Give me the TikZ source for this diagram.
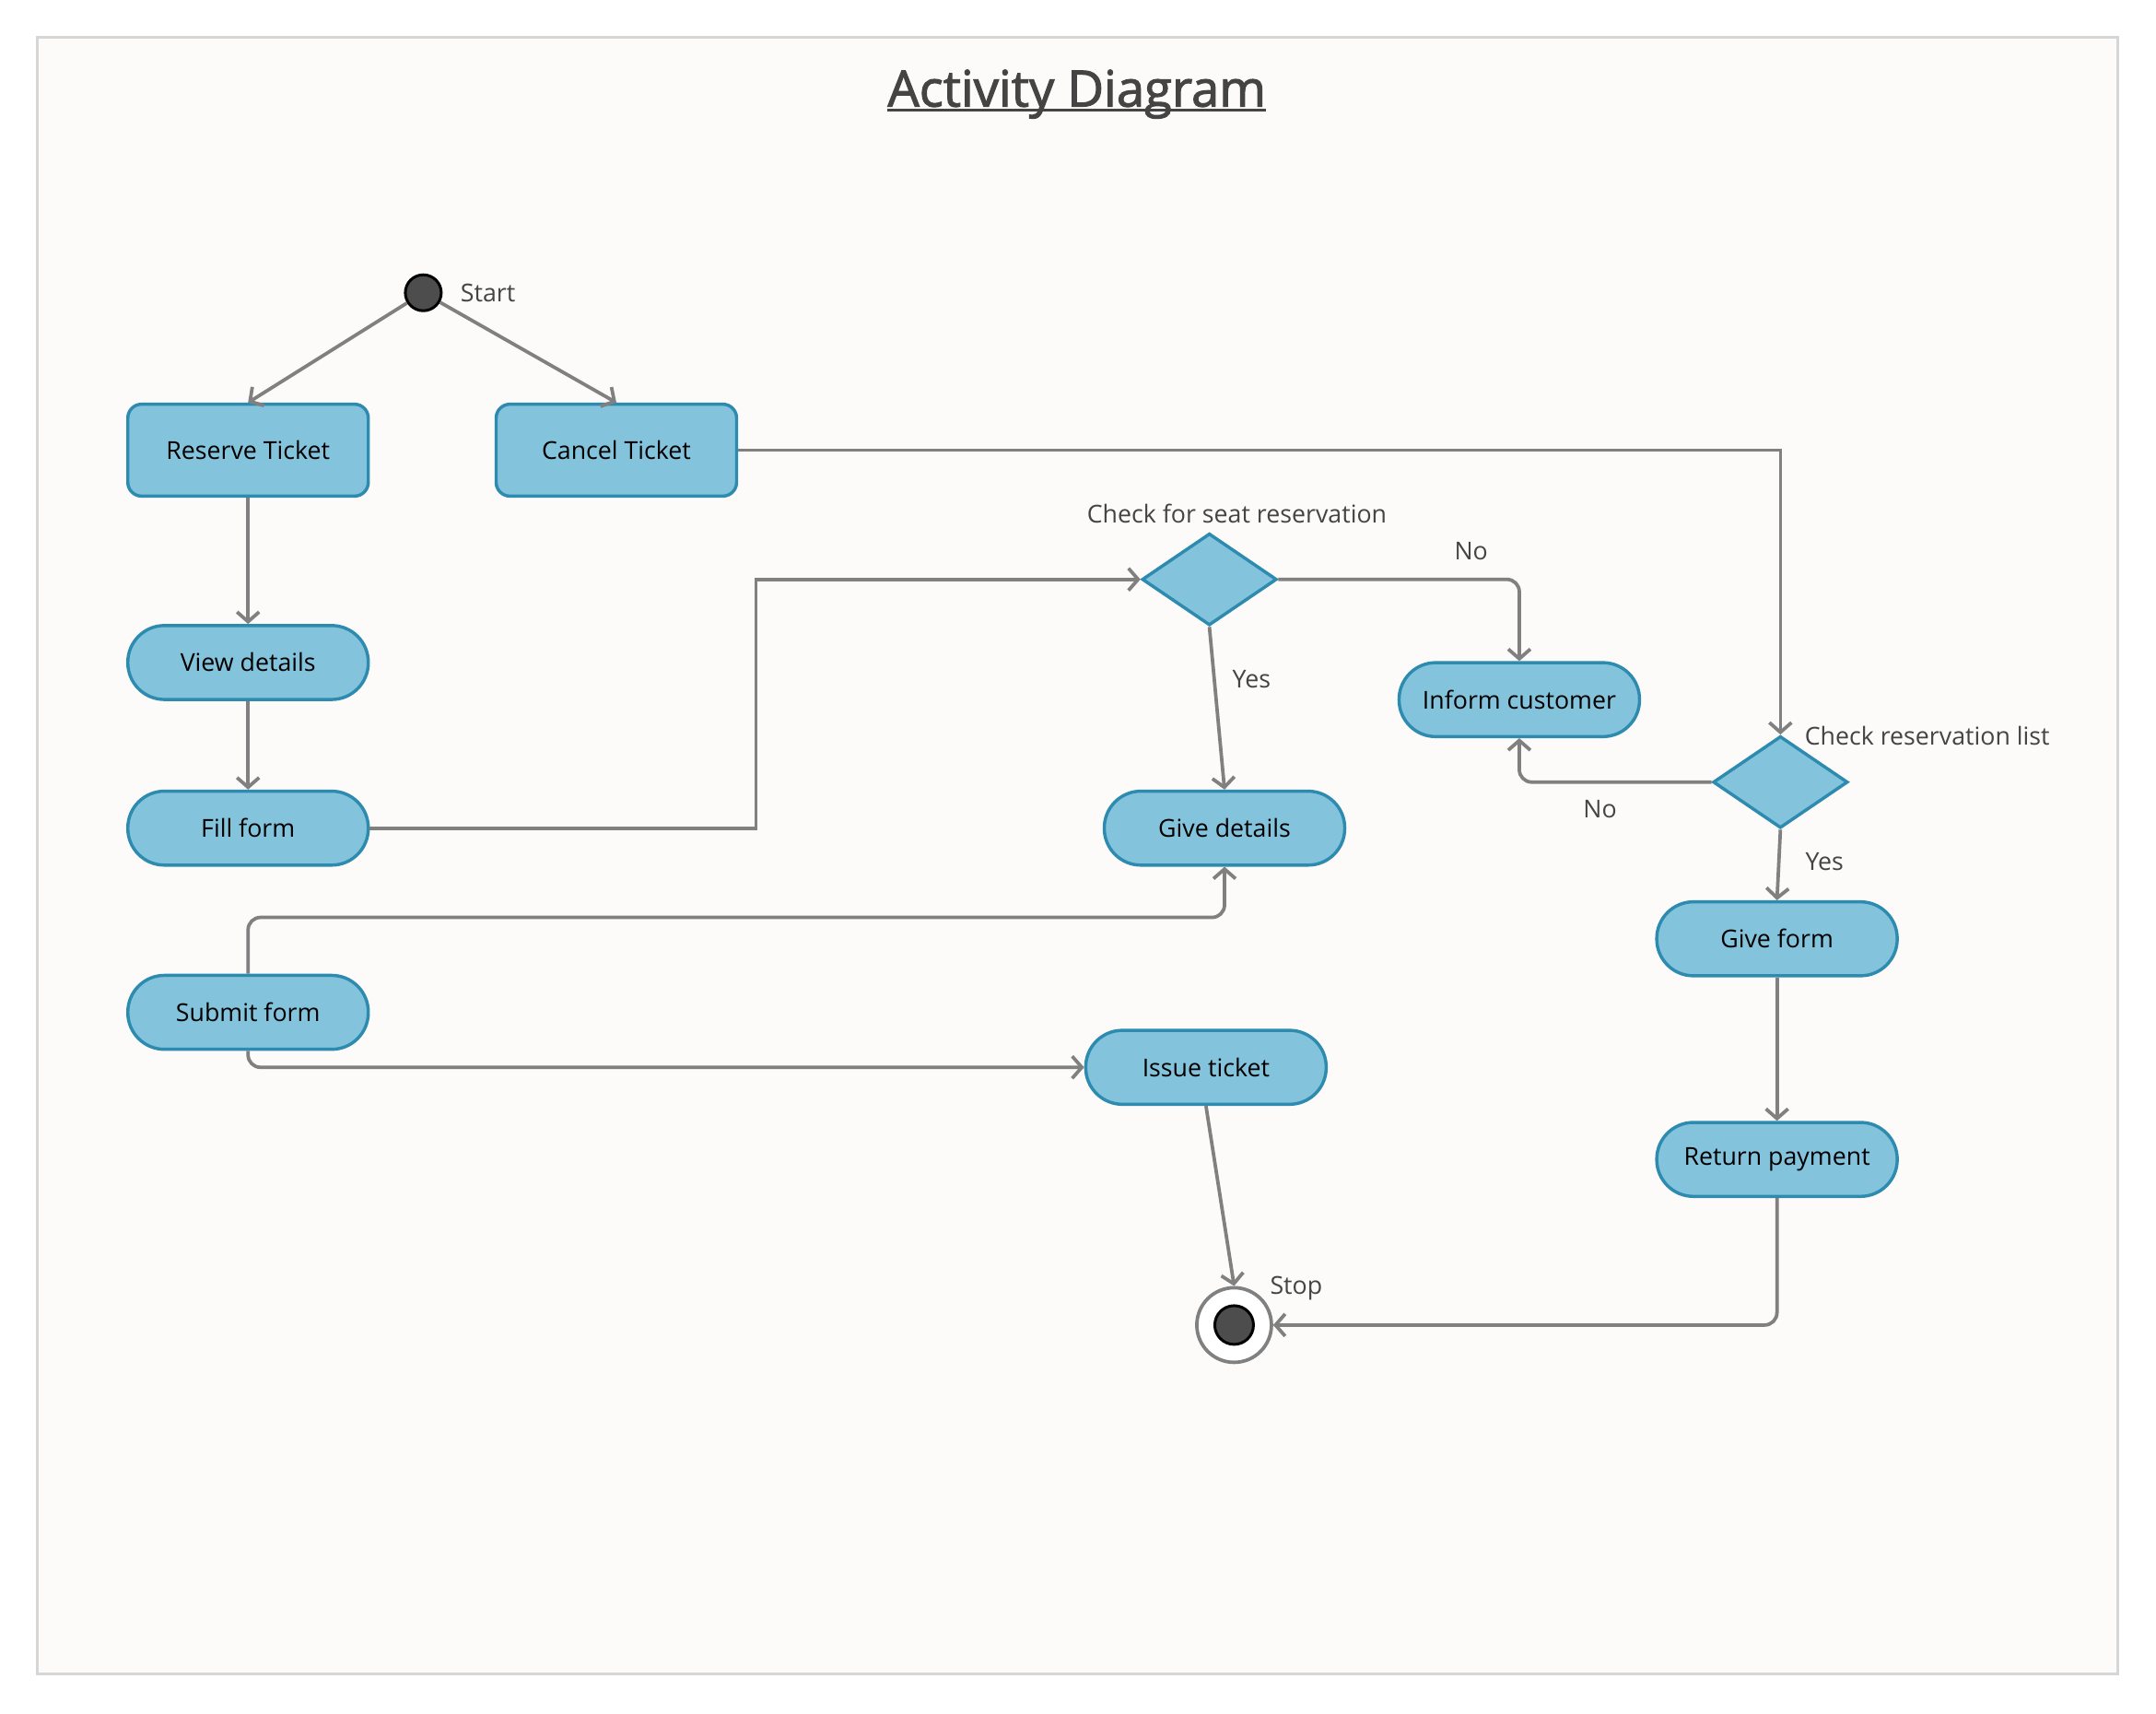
\documentclass[tikz,border=0pt]{standalone}
\usepackage{fontspec}
\setmainfont{Open Sans}
\newfontfamily\titlefont{Open Sans}[FakeBold=2]
\usetikzlibrary{shapes.geometric,arrows.meta}

\definecolor{actfill}{HTML}{84C3DC}
\definecolor{actline}{HTML}{2E8BB0}
\definecolor{flowline}{HTML}{808080}
\definecolor{pagebg}{HTML}{FCFBFA}
\definecolor{pageline}{HTML}{D6D6D6}
\definecolor{labeltext}{HTML}{444444}
\definecolor{dotfill}{HTML}{4D4D4D}

\begin{document}
\begin{tikzpicture}
[
x=0.9944bp, y=-0.9944bp,
font=\fontsize{17.9}{21}\selectfont,
act/.style={rectangle, rounded corners=10bp, draw=actline, fill=actfill, line width=2.3bp, minimum width=174bp, minimum height=66.5bp, inner sep=0pt},
pill/.style={act, rounded corners=26.5bp, minimum height=53.5bp},
choice/.style={diamond, draw=actline, fill=actfill, line width=2.3bp, minimum width=97.5bp, minimum height=66.5bp, inner sep=0pt},
dot/.style={circle, draw=black, fill=dotfill, line width=2bp, minimum size=26bp, inner sep=0pt},
lbl/.style={text=labeltext, inner sep=2pt},
flow/.style={draw=flowline, line width=2.5bp, -{Straight Barb[length=7bp,width=16bp,line width=2.5bp]}}
]
\useasboundingbox (0bp,0bp) rectangle (1560bp,-1240bp);
\draw[pageline, fill=pagebg, line width=2bp] (27,27) rectangle (1541,1218);

% title
\node[text=labeltext, inner sep=0pt, anchor=base, font=\titlefont\fontsize{36.4}{42}\selectfont] (title) at (783.5,77.5) {Activity Diagram};
\draw[labeltext, line width=2bp] ([yshift=-2.5bp]title.base west) -- ([yshift=-2.5bp]title.base east);

% start and stop
\node[dot] (start) at (308,213) {};
\node[lbl, anchor=west] (startlbl) at (333,213) {Start};
\node[circle, draw=flowline, fill=white, line width=2.5bp, minimum size=54bp, inner sep=0pt] (stop) at (898,964) {};
\node[dot, minimum size=28bp] (stopdot) at (stop) {};
\node[lbl, anchor=west] (stoplbl) at (922,937) {Stop};

% activities
\node[act] (reserve) at (180.5,327.5) {Reserve Ticket};
\node[act] (cancel) at (448.5,327.5) {Cancel Ticket};
\node[pill] (view) at (180.5,482) {View details};
\node[pill] (fill) at (180.5,602.5) {Fill form};
\node[pill] (submit) at (180.5,736.5) {Submit form};
\node[pill] (give) at (891,602.5) {Give details};
\node[pill] (issue) at (877.5,776.5) {Issue ticket};
\node[pill] (inform) at (1105.5,509) {Inform customer};
\node[pill] (giveform) at (1293,683) {Give form};
\node[pill] (payment) at (1293,843.5) {Return payment};

% decisions
\node[choice] (seat) at (880,421.5) {};
\node[lbl] (seatlbl) at (900,374) {Check for seat reservation};
\node[choice] (list) at (1295.5,569) {};
\node[lbl, anchor=west] (listlbl) at (1311,535) {Check reservation list};

% flows
\draw[flow] (start) -- (reserve.north);
\draw[flow] (start) -- (cancel.north);
\draw[flow] (reserve) -- (view);
\draw[flow] (view) -- (fill);
\draw[flow] (fill.east) -- ++(281,0) |- (seat.west);
\draw[flow, rounded corners=9bp] (seat.east) -| node[lbl, pos=0.4, above=11bp] {No} (inform.north);
\draw[flow] (seat.south) -- node[lbl, pos=0.32, right=10bp] {Yes} (give.north);
\draw[flow] (cancel.east) -| (list.north);
\draw[flow, rounded corners=9bp] (list.west) -| node[lbl, pos=0.29, below=10bp] {No} (inform.south);
\draw[flow] (list.south) -- node[lbl, pos=0.45, right=16bp] {Yes} (giveform.north);
\draw[flow] (giveform) -- (payment);
\draw[flow, rounded corners=9bp] (payment.south) |- (stop.east);
\draw[flow, rounded corners=9bp] (submit.north) -- ++(0,-41) -| (give.south);
\draw[flow, rounded corners=9bp] (submit.south) |- (issue.west);
\draw[flow] (issue.south) -- (stop.north);
\end{tikzpicture}
\end{document}
